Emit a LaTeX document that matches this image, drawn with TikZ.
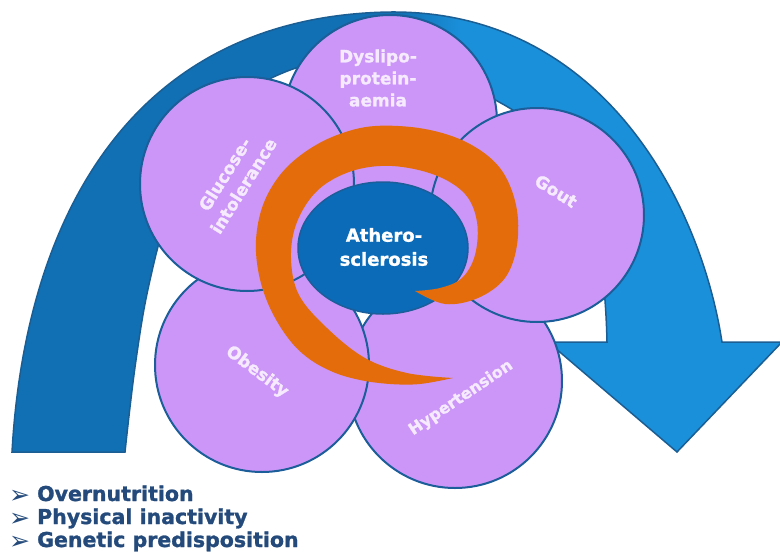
\documentclass[tikz,border=0pt]{standalone}
\usepackage{fontspec}
\usetikzlibrary{shapes.geometric}
\setmainfont{DejaVu Sans}[BoldFeatures={FakeBold=1.3}]
\definecolor{arrowdark}{HTML}{1170B4}
\definecolor{arrowlight}{HTML}{1A90DA}
\definecolor{arrowline}{HTML}{1B5E94}
\definecolor{cfill}{HTML}{CC96F8}
\definecolor{cline}{HTML}{1B5E99}
\definecolor{ctext}{HTML}{F6EAFF}
\definecolor{athero}{HTML}{0B6BB8}
\definecolor{spiral}{HTML}{E46C0A}
\definecolor{listblue}{HTML}{234A7A}
\tikzset{
  circ/.style={circle, draw=cline, line width=2pt, fill=cfill, minimum size=214pt, inner sep=0pt},
  clabel/.style={text=ctext, font=\fontsize{17}{22}\selectfont\bfseries, align=center, inner sep=0pt},
  listitem/.style={text=listblue, font=\fontsize{20.5}{24}\selectfont\bfseries, anchor=base west, inner sep=0pt},
  bulletmark/.style={text=listblue, font=\fontsize{25}{28}\selectfont, anchor=base west, inner sep=0pt},
}
\begin{document}
\begin{tikzpicture}[x=1pt,y=-1pt]
\useasboundingbox (0,0) rectangle (780,555);
\path[save path=\arrowp] (12,452) .. controls (25,220) and (130,16) .. (390,12)
  .. controls (600,10) and (700,200) .. (722,342) -- (782,342) -- (677,452) -- (548,342)
  -- plot[smooth, tension=0.7] coordinates {(607,342) (600,260) (575,180) (535,128) (490,97) (440,75) (385,63) (330,63) (285,72) (240,100) (200,150) (170,210) (150,280) (136,360) (125,452)}
  -- cycle;
\begin{scope}
  \clip[use path=\arrowp];
  \fill[arrowdark] (0,0) rectangle (401,555);
  \shade[left color=arrowdark, right color=arrowlight] (400,0) rectangle (461,555);
  \fill[arrowlight] (460,0) rectangle (790,555);
\end{scope}
\draw[arrowline, line width=1.5pt, line join=miter, use path=\arrowp];
\node[circ] (dys) at (390,122) {};
\node[circ] (hyp) at (455,381) {};
\node[circ] (gout) at (537,215) {};
\node[circ] (obe) at (262,365) {};
\node[circ] (glu) at (247,184) {};
\node[ellipse, draw=cline, line width=1.5pt, fill=athero, minimum width=170pt, minimum height=132pt, inner sep=0pt] (ath) at (383,248) {};
\fill[spiral] plot[smooth, tension=0.6] coordinates {(453,378) (420,384) (390,384) (360,380) (333,372) (308,358) (288,338) (270,308) (259,275) (256,240) (263,205) (280,175) (305,152) (337,135) (375,126) (425,129) (468,143) (500,168) (516,205) (517,245) (505,278) (478,298) (445,304) (415,291)}
  -- plot[smooth, tension=0.6] coordinates {(415,291) (440,288) (462,278) (475,255) (477,222) (465,194) (435,175) (392,166) (352,171) (318,190) (297,222) (291,258) (299,295) (327,328) (365,358) (407,373) (453,378)} -- cycle;
\node[clabel] (tdys) at (378,78) {Dyslipo-\\protein-\\aemia};
\node[clabel, rotate=58] (tglu) at (234,180) {Glucose-\\intolerance};
\node[clabel, rotate=-32] (tgout) at (556,191) {Gout};
\node[clabel, rotate=-37] (tobe) at (257,372) {Obesity};
\node[clabel, rotate=34, font=\fontsize{16}{20}\selectfont\bfseries] (thyp) at (461,398) {Hypertension};
\node[text=white, font=\fontsize{18}{24}\selectfont\bfseries, align=center, inner sep=0pt] (tath) at (384,247) {Athero-\\sclerosis};
\node[bulletmark] (b1) at (9,503) {➢};
\node[bulletmark] (b2) at (9,526) {➢};
\node[bulletmark] (b3) at (9,549) {➢};
\node[listitem] (l1) at (37,501) {Overnutrition};
\node[listitem] (l2) at (37,524) {Physical inactivity};
\node[listitem] (l3) at (37,547) {Genetic predisposition};
\end{tikzpicture}
\end{document}
